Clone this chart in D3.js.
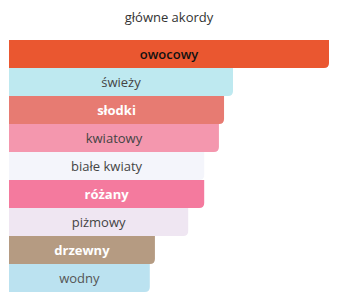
<!DOCTYPE html>
<html lang="pl">
<head>
<meta charset="utf-8">
<script src="https://d3js.org/d3.v7.min.js"></script>
<style>
  body { margin: 0; background: #fff; }
  text { font-family: "Open Sans", "Noto Sans", sans-serif; }
</style>
</head>
<body>
<div id="chart"></div>
<script>
// main accords, widths relative to the strongest one
const accords = ["owocowy", "świeży", "słodki", "kwiatowy", "białe kwiaty", "różany", "piżmowy", "drzewny", "wodny"];
const strength = [100, 70, 67.2, 65.6, 61, 61, 56, 45.6, 44];
const barColors = ["#ea5730", "#bee9f0", "#e77b72", "#f497ae", "#f4f5fb", "#f47a9e", "#efe6f2", "#b59b82", "#bbe2f0"];
const textColors = ["#111", "#444", "#fff", "#444", "#444", "#fff", "#444", "#fff", "#555"];
const textWeights = [600, 400, 700, 400, 400, 700, 400, 700, 400];

const W = 338, H = 300;
const margin = { left: 9, right: 9, top: 40 };
const bandH = 28;

const svg = d3.select("#chart").append("svg")
  .attr("width", W).attr("height", H);

svg.append("text")
  .attr("x", 169).attr("y", 22)
  .attr("text-anchor", "middle")
  .style("font-size", "13px")
  .style("font-weight", 500)
  .attr("fill", "#333")
  .text("główne akordy");

const x = d3.scaleLinear().domain([0, 100]).range([margin.left, W - margin.right]);
const y = d3.scaleBand().domain(accords)
  .range([margin.top, margin.top + bandH * accords.length]).padding(0);

const r = 5;
// rect with only the bottom-right corner rounded
function barPath(x0, y0, w, h) {
  return `M${x0},${y0}H${x0 + w}V${y0 + h - r}Q${x0 + w},${y0 + h} ${x0 + w - r},${y0 + h}H${x0}Z`;
}

const rows = svg.append("g").selectAll("g")
  .data(accords)
  .join("g");

rows.append("path")
  .attr("d", (d, i) => barPath(x(0), y(d), x(strength[i]) - x(0), y.bandwidth()))
  .attr("fill", (d, i) => barColors[i]);

rows.append("text")
  .attr("x", (d, i) => (x(0) + x(strength[i])) / 2)
  .attr("y", d => y(d) + y.bandwidth() / 2)
  .attr("dy", "0.35em")
  .attr("text-anchor", "middle")
  .style("font-size", "13px")
  .style("font-weight", (d, i) => textWeights[i])
  .attr("fill", (d, i) => textColors[i])
  .text(d => d);
</script>
</body>
</html>
